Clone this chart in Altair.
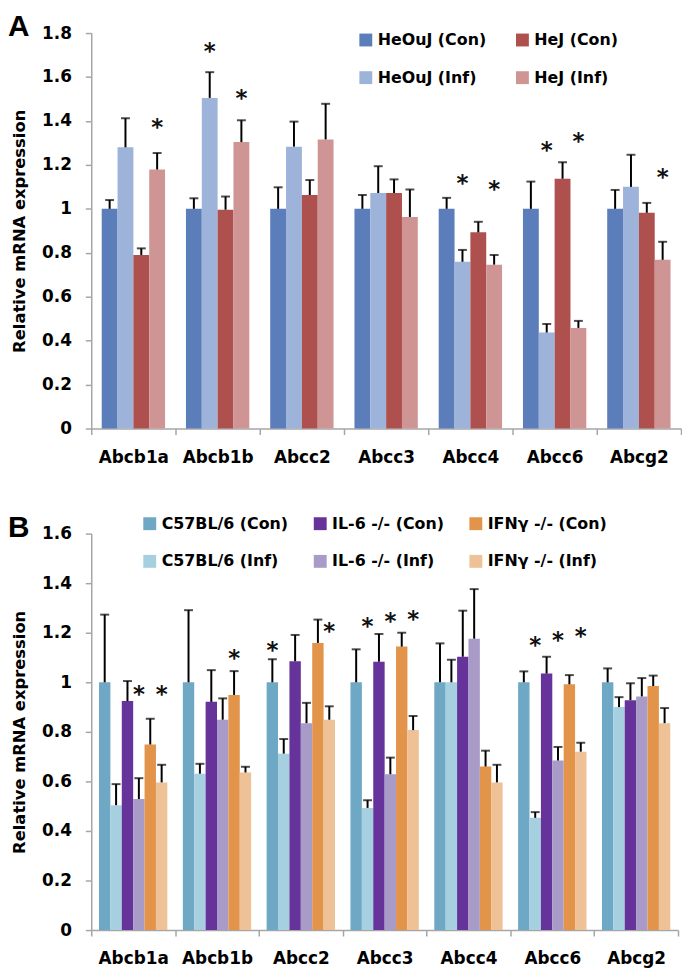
import altair as alt
import pandas as pd

genes = ["Abcb1a", "Abcb1b", "Abcc2", "Abcc3", "Abcc4", "Abcc6", "Abcg2"]

# ---------------- Panel A ----------------
a_series = ["HeOuJ (Con)", "HeOuJ (Inf)", "HeJ (Con)", "HeJ (Inf)"]
a_legend_order = ["HeOuJ (Con)", "HeJ (Con)", "HeOuJ (Inf)", "HeJ (Inf)"]
a_colors = ["#5B7DBA", "#AD504E", "#9DB3D9", "#CF9595"]  # legend order

a_heouj_con = [1.0, 1.0, 1.0, 1.0, 1.0, 1.0, 1.0]
a_heouj_con_err = [0.04, 0.048, 0.098, 0.063, 0.05, 0.124, 0.086]
a_heouj_inf = [1.28, 1.505, 1.283, 1.072, 0.759, 0.437, 1.10]
a_heouj_inf_err = [0.132, 0.117, 0.114, 0.122, 0.054, 0.039, 0.146]
a_hej_con = [0.79, 0.996, 1.063, 1.072, 0.893, 1.137, 0.982]
a_hej_con_err = [0.03, 0.06, 0.068, 0.062, 0.048, 0.075, 0.045]
a_hej_inf = [1.179, 1.304, 1.316, 0.963, 0.746, 0.458, 0.768]
a_hej_inf_err = [0.075, 0.099, 0.162, 0.125, 0.044, 0.032, 0.082]

a_star_gene = ["Abcb1a", "Abcb1b", "Abcb1b", "Abcc4", "Abcc4", "Abcc6", "Abcc6", "Abcg2"]
a_star_series = ["HeJ (Inf)", "HeOuJ (Inf)", "HeJ (Inf)", "HeOuJ (Inf)", "HeJ (Inf)",
                 "HeOuJ (Inf)", "HeJ (Inf)", "HeJ (Inf)"]
a_star_y = [1.382, 1.728, 1.513, 1.125, 1.101, 1.278, 1.316, 1.153]

a_ticks = [0, 0.2, 0.4, 0.6, 0.8, 1, 1.2, 1.4, 1.6, 1.8]

# ---------------- Panel B ----------------
b_series = ["C57BL/6 (Con)", "C57BL/6 (Inf)", "IL-6 -/- (Con)", "IL-6 -/- (Inf)",
            "IFNγ -/- (Con)", "IFNγ -/- (Inf)"]
b_legend_order = ["C57BL/6 (Con)", "IL-6 -/- (Con)", "IFNγ -/- (Con)",
                  "C57BL/6 (Inf)", "IL-6 -/- (Inf)", "IFNγ -/- (Inf)"]
b_colors = ["#6FA8C5", "#65339A", "#E2944A", "#A6D0E0", "#A99BC8", "#EFC196"]  # legend order

b_c57_con = [1.0, 1.0, 1.0, 1.0, 1.0, 1.0, 1.0]
b_c57_con_err = [0.273, 0.291, 0.093, 0.133, 0.157, 0.044, 0.056]
b_c57_inf = [0.504, 0.631, 0.712, 0.493, 1.0, 0.453, 0.90]
b_c57_inf_err = [0.085, 0.04, 0.059, 0.031, 0.091, 0.023, 0.04]
b_il6_con = [0.924, 0.921, 1.085, 1.083, 1.103, 1.035, 0.928]
b_il6_con_err = [0.081, 0.128, 0.106, 0.112, 0.186, 0.068, 0.068]
b_il6_inf = [0.529, 0.849, 0.835, 0.629, 1.176, 0.684, 0.943]
b_il6_inf_err = [0.084, 0.086, 0.082, 0.067, 0.20, 0.055, 0.074]
b_ifn_con = [0.749, 0.949, 1.159, 1.144, 0.66, 0.992, 0.985]
b_ifn_con_err = [0.104, 0.096, 0.094, 0.056, 0.064, 0.037, 0.042]
b_ifn_inf = [0.596, 0.636, 0.849, 0.807, 0.596, 0.72, 0.835]
b_ifn_inf_err = [0.071, 0.023, 0.054, 0.057, 0.071, 0.036, 0.061]

b_star_gene = ["Abcb1a", "Abcb1a", "Abcb1b", "Abcc2", "Abcc2", "Abcc3", "Abcc3", "Abcc3",
               "Abcc6", "Abcc6", "Abcc6"]
b_star_series = ["IL-6 -/- (Inf)", "IFNγ -/- (Inf)", "IFNγ -/- (Con)", "C57BL/6 (Con)",
                 "IFNγ -/- (Inf)", "C57BL/6 (Inf)", "IL-6 -/- (Inf)", "IFNγ -/- (Inf)",
                 "C57BL/6 (Inf)", "IL-6 -/- (Inf)", "IFNγ -/- (Inf)"]
b_star_y = [0.96, 0.96, 1.107, 1.14, 1.213, 1.236, 1.256, 1.264, 1.16, 1.18, 1.193]

b_ticks = [0, 0.2, 0.4, 0.6, 0.8, 1, 1.2, 1.4, 1.6]

FONT = "DejaVu Sans"


def long_table(series, vals, errs):
    rows = []
    for s, v, e in zip(series, vals, errs):
        for g, vv, ee in zip(genes, v, e):
            rows.append({"gene": g, "series": s, "value": vv, "top": vv + ee})
    return pd.DataFrame(rows)


def panel(df, stars, series, legend_order, colors, ymax, yticks, width, height,
          letter, pad_outer, legend_x, legend_y, legend_cols, row_pad, col_pad):
    x = alt.X("gene:N", scale=alt.Scale(domain=genes, paddingInner=0, paddingOuter=0),
              axis=alt.Axis(title=None, labelAngle=0, tickBand="extent"))
    xo = alt.XOffset("series:N", scale=alt.Scale(domain=series, paddingInner=0,
                                                  paddingOuter=pad_outer))
    yscale = alt.Scale(domain=[0, ymax], nice=False, zero=True)
    bars = alt.Chart(df).mark_bar(opacity=1).encode(
        x=x, xOffset=xo,
        y=alt.Y("value:Q", scale=yscale,
                axis=alt.Axis(title="Relative mRNA expression", values=yticks, format="~g")),
        color=alt.Color("series:N",
                        scale=alt.Scale(domain=legend_order, range=colors),
                        legend=alt.Legend(title=None, orient="none", legendX=legend_x,
                                          legendY=legend_y, columns=legend_cols,
                                          direction="horizontal",
                                          symbolType="square", symbolSize=169,
                                          symbolStrokeWidth=0, labelFont=FONT,
                                          labelFontSize=16, labelFontWeight="bold",
                                          labelColor="black", labelOffset=4,
                                          rowPadding=row_pad, columnPadding=col_pad,
                                          padding=0, labelLimit=300)),
    )
    stems = alt.Chart(df).mark_rule(color="black", strokeWidth=2).encode(
        x=x, xOffset=xo, y=alt.Y("value:Q", scale=yscale), y2="top:Q")
    caps = alt.Chart(df).mark_tick(color="black", thickness=2, size=9,
                                   orient="horizontal").encode(
        x=x, xOffset=xo, y=alt.Y("top:Q", scale=yscale))
    ast = alt.Chart(stars).mark_text(text="*", font=FONT, fontSize=23, fontWeight="bold",
                                     fill="#111111", baseline="alphabetic", dy=10).encode(
        x=x, xOffset=xo, y=alt.Y("y:Q", scale=yscale))
    lab = alt.Chart(pd.DataFrame({"t": [letter]})).mark_text(
        font="Liberation Sans", fontSize=30, fontWeight="bold", color="black",
        align="left", baseline="top").encode(
        x=alt.value(-84), y=alt.value(-21), text="t:N")
    return alt.layer(bars, stems, caps, ast, lab).properties(width=width, height=height)


dfA = long_table(a_series, [a_heouj_con, a_heouj_inf, a_hej_con, a_hej_inf],
                 [a_heouj_con_err, a_heouj_inf_err, a_hej_con_err, a_hej_inf_err])
starsA = pd.DataFrame({"gene": a_star_gene, "series": a_star_series, "y": a_star_y})
dfB = long_table(b_series, [b_c57_con, b_c57_inf, b_il6_con, b_il6_inf, b_ifn_con, b_ifn_inf],
                 [b_c57_con_err, b_c57_inf_err, b_il6_con_err, b_il6_inf_err,
                  b_ifn_con_err, b_ifn_inf_err])
starsB = pd.DataFrame({"gene": b_star_gene, "series": b_star_series, "y": b_star_y})

chartA = panel(dfA, starsA, a_series, a_legend_order, a_colors, 1.8, a_ticks, 595, 399,
               "A", 0.66, 269, -1, 2, 22, 28)
chartB = panel(dfB, starsB, b_series, b_legend_order, b_colors, 1.6, b_ticks, 592, 400,
               "B", 0.68, 51, -18, 3, 22, 24)

chart = alt.vconcat(chartA, chartB, spacing=48).resolve_scale(
    color="independent", x="independent", y="independent", xOffset="independent"
).properties(padding=0).configure_view(stroke=None).configure_axis(
    labelFont=FONT, labelFontSize=17, labelFontWeight="bold", labelColor="black",
    titleFont=FONT, titleFontSize=16.5, titleFontWeight="bold", titleColor="black",
    domainColor="#A6A6A6", domainWidth=1.5, tickColor="#A6A6A6", tickWidth=1.5,
    tickSize=6, grid=False
).configure_axisY(labelPadding=14, titlePadding=14).configure_axisX(labelPadding=15)

chart.save("out.html", embed_options={"renderer": "svg", "actions": False})
